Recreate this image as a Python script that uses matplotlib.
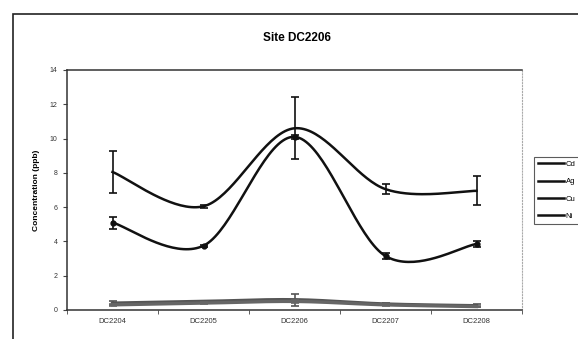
import numpy as np
import matplotlib
matplotlib.use("Agg")
import matplotlib.pyplot as plt
from matplotlib.patches import Rectangle

plt.rcParams['font.family'] = ['Liberation Sans', 'DejaVu Sans']

sites = ["DC2204", "DC2205", "DC2206", "DC2207", "DC2208"]
cd = [0.40, 0.50, 0.60, 0.35, 0.25]
cd_err = [0.10, 0.05, 0.35, 0.05, 0.10]
ag = [5.10, 3.75, 10.10, 3.15, 3.85]
ag_err = [0.35, 0.05, 0.10, 0.15, 0.20]
cu = [0.30, 0.40, 0.50, 0.30, 0.20]
cu_err = [0.05, 0.05, 0.10, 0.05, 0.05]
ni = [8.05, 6.05, 10.60, 7.05, 6.95]
ni_err = [1.20, 0.08, 1.80, 0.30, 0.85]


def smooth(y, n=40):
    """Catmull-Rom smoothing (Excel-style smoothed line) through the points."""
    y = np.asarray(y, float)
    x = np.arange(len(y), dtype=float)
    px = np.concatenate([[x[0]], x, [x[-1]]])
    py = np.concatenate([[y[0]], y, [y[-1]]])
    xs, ys = [], []
    for i in range(1, len(px) - 2):
        t = np.linspace(0, 1, n)
        for arr, out in ((px, xs), (py, ys)):
            p0, p1, p2, p3 = arr[i - 1], arr[i], arr[i + 1], arr[i + 2]
            out.append(0.5 * ((2 * p1) + (-p0 + p2) * t
                              + (2 * p0 - 5 * p1 + 4 * p2 - p3) * t ** 2
                              + (-p0 + 3 * p1 - 3 * p2 + p3) * t ** 3))
    return np.concatenate(xs), np.concatenate(ys)


fig = plt.figure(figsize=(5.78, 3.39), dpi=100)
fig.patch.set_facecolor("white")

# outer chart frame (cut off at right/bottom like the scan)
fig.add_artist(Rectangle((13 / 578, -0.05), 1.2, 1 - 14 / 339 + 0.05,
                         transform=fig.transFigure, fill=False,
                         edgecolor="#222222", lw=1.2))

ax = fig.add_axes([67 / 578, 1 - 310 / 339, (522 - 67) / 578, (310 - 70) / 339])
x = np.arange(len(sites))

series = [("Cd", cd, cd_err, "#555555", 2.4, None),
          ("Ag", ag, ag_err, "#111111", 1.8, "o"),
          ("Cu", cu, cu_err, "#666666", 2.4, None),
          ("Ni", ni, ni_err, "#111111", 1.8, None)]

handles = []
for name, vals, err, col, lw, mk in series:
    sx, sy = smooth(vals)
    (ln,) = ax.plot(sx, sy, color=col, lw=lw, label=name)
    ax.errorbar(x, vals, yerr=err, fmt="none", ecolor=col, elinewidth=1.2,
                capsize=3, capthick=1.2)
    if mk:
        ax.plot(x, vals, linestyle="none", marker=mk, markersize=3.5, color=col)
    handles.append(ln)

ax.set_xlim(-0.5, 4.5)
ax.set_ylim(0, 14)
ax.set_yticks(range(0, 15, 2))
ax.set_xticks(x)
ax.set_xticklabels(sites)
ax.set_xticks(np.arange(-0.5, 5.0, 1.0), minor=True)
ax.tick_params(axis="x", which="major", length=0, labelsize=5.5, pad=6,
               labelcolor="#333333")
ax.tick_params(axis="x", which="minor", length=3, direction="out",
               color="#444444")
ax.tick_params(axis="y", labelsize=5, length=3, color="#444444",
               labelcolor="#333333", pad=4)

for s in ("left", "bottom", "top"):
    ax.spines[s].set_color("#333333")
    ax.spines[s].set_linewidth(1.1)
ax.spines["right"].set_color("#aaaaaa")
ax.spines["right"].set_linestyle(":")

ax.set_ylabel("Concentration (ppb)", fontsize=6, fontweight="bold", labelpad=7)
fig.text(297 / 578, 1 - 38 / 339, "Site DC2206", fontsize=8.5,
         fontweight="bold", ha="center", va="center")

leg = fig.legend(handles=handles, labels=["Cd", "Ag", "Cu", "Ni"],
                 loc="upper left", bbox_to_anchor=(534 / 578, 1 - 157 / 339),
                 fontsize=5.5, frameon=True, fancybox=False,
                 handlelength=3.4, handletextpad=0.25, borderpad=0.5,
                 labelspacing=1.3, borderaxespad=0)
leg.get_frame().set_edgecolor("#333333")
leg.get_frame().set_linewidth(0.8)
for h in leg.legend_handles:
    h.set_color("#111111")
    h.set_linewidth(1.8)

fig.savefig("out.png", dpi=100)
